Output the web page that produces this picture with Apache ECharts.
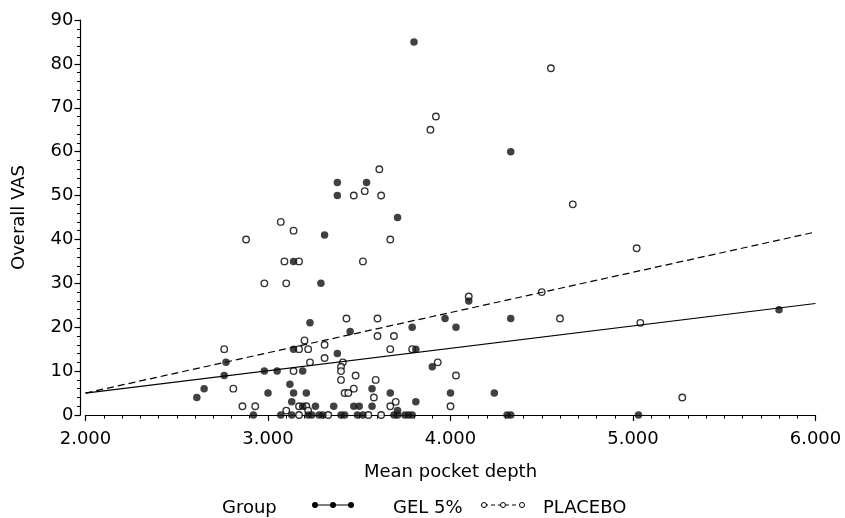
<!DOCTYPE html>
<html>
<head>
<meta charset="utf-8">
<script src="https://cdn.jsdelivr.net/npm/echarts@6/dist/echarts.min.js"></script>
<style>
html, body { margin: 0; padding: 0; background: #fff; }
#main { width: 845px; height: 518px; }
</style>
</head>
<body>
<div id="main"></div>
<script>
// GEL 5% (filled)
var gelX = [3.80, 4.33, 3.38, 3.54, 3.38, 3.71, 3.31, 3.14, 3.29, 4.10, 5.80, 3.97, 4.33, 3.23, 3.79, 4.03,
    3.45, 3.14, 3.81, 3.38, 2.77, 3.90, 2.98, 3.05, 3.19, 2.76, 3.12, 2.65, 3.57, 3.00, 3.14, 3.21,
    3.67, 4.00, 4.24, 2.61, 3.13, 3.81, 3.19, 3.26, 3.36, 3.47, 3.50, 3.57, 3.71, 2.92, 3.07, 3.13,
    3.22, 3.24, 3.28, 3.30, 3.40, 3.42, 3.49, 3.52, 3.69, 3.71, 3.75, 3.77, 3.79, 4.31, 4.33, 5.03];
var gelY = [85, 60, 53, 53, 50, 45, 41, 35, 30, 26, 24, 22, 22, 21, 20, 20,
    19, 15, 15, 14, 12, 11, 10, 10, 10, 9, 7, 6, 6, 5, 5, 5,
    5, 5, 5, 4, 3, 3, 2, 2, 2, 2, 2, 2, 1, 0, 0, 0,
    0, 0, 0, 0, 0, 0, 0, 0, 0, 0, 0, 0, 0, 0, 0, 0];

// PLACEBO (open)
var plaX = [4.55, 3.92, 3.89, 3.61, 3.53, 3.47, 3.62, 4.67, 3.07, 3.14, 2.88, 3.67, 5.02, 3.09, 3.17, 3.52,
    2.98, 3.10, 4.50, 4.10, 3.43, 3.60, 4.60, 5.04, 3.60, 3.69, 3.20, 3.31, 2.76, 3.17, 3.22, 3.67,
    3.79, 3.31, 3.23, 3.41, 3.93, 3.40, 3.14, 3.40, 3.48, 4.03, 3.40, 3.59, 2.81, 3.47, 3.42, 3.44,
    3.58, 5.27, 3.70, 2.86, 2.93, 3.17, 3.21, 3.67, 4.00, 3.10, 3.22, 3.17, 3.33, 3.55, 3.62];
var plaY = [79, 68, 65, 56, 51, 50, 50, 48, 44, 42, 40, 40, 38, 35, 35, 35,
    30, 30, 28, 27, 22, 22, 22, 21, 18, 18, 17, 16, 15, 15, 15, 15,
    15, 13, 12, 12, 12, 11, 10, 10, 9, 9, 8, 8, 6, 6, 5, 5,
    4, 4, 3, 2, 2, 2, 2, 2, 2, 1, 1, 0, 0, 0, 0];

// fitted lines
var fitX = [2, 6];
var gelFit = [5.0, 25.4];
var plaFit = [5.0, 41.7];

var xTicks = {min: 2, max: 6, step: 1};
var yTicks = {min: 0, max: 90, step: 10};

function pairs(xs, ys) {
    return xs.map(function (x, i) { return [x, ys[i]]; });
}

var font = 'DejaVu Sans';
var ink = '#000';

var chart = echarts.init(document.getElementById('main'));

var option = {
    animation: false,
    backgroundColor: '#fff',
    grid: {left: 85.5, right: 29.5, top: 20, bottom: 103},
    xAxis: {
        type: 'value',
        min: xTicks.min, max: xTicks.max, interval: xTicks.step,
        offset: 5,
        name: 'Mean pocket depth',
        nameLocation: 'middle',
        nameGap: 43,
        nameTextStyle: {fontFamily: font, fontSize: 18, color: ink},
        axisLine: {lineStyle: {color: ink, width: 1.2}},
        axisTick: {show: true, length: 6, lineStyle: {color: ink, width: 1.2}},
        minorTick: {show: true, splitNumber: 10, length: 3.5, lineStyle: {color: ink, width: 1}},
        splitLine: {show: false},
        axisLabel: {
            fontFamily: font, fontSize: 18, color: ink, margin: 10,
            formatter: function (v) { return v.toFixed(3); }
        }
    },
    yAxis: {
        type: 'value',
        min: yTicks.min, max: yTicks.max, interval: yTicks.step,
        offset: 5,
        name: 'Overall VAS',
        nameLocation: 'middle',
        nameGap: 52,
        nameTextStyle: {fontFamily: font, fontSize: 18, color: ink},
        axisLine: {show: true, lineStyle: {color: ink, width: 1.2}},
        axisTick: {show: true, length: 6, lineStyle: {color: ink, width: 1.2}},
        minorTick: {show: true, splitNumber: 5, length: 3.5, lineStyle: {color: ink, width: 1}},
        splitLine: {show: false},
        axisLabel: {fontFamily: font, fontSize: 18, color: ink, margin: 7}
    },
    series: [
        {
            name: 'GEL 5% fit',
            type: 'line',
            data: pairs(fitX, gelFit),
            symbol: 'none',
            silent: true,
            lineStyle: {color: ink, width: 1.2}
        },
        {
            name: 'PLACEBO fit',
            type: 'line',
            data: pairs(fitX, plaFit),
            symbol: 'none',
            silent: true,
            lineStyle: {color: ink, width: 1.2, type: [7, 4]}
        },
        {
            name: 'PLACEBO',
            type: 'scatter',
            data: pairs(plaX, plaY),
            symbol: 'circle',
            symbolSize: 6.5,
            itemStyle: {color: '#fff', borderColor: ink, borderWidth: 1.4}
        },
        {
            name: 'GEL 5%',
            type: 'scatter',
            data: pairs(gelX, gelY),
            symbol: 'circle',
            symbolSize: 7.5,
            itemStyle: {color: '#111'}
        }
    ],
    // legend row drawn by hand: "Group  ●-●-●  GEL 5%  o-o-o  PLACEBO"
    graphic: [
        {type: 'text', left: 222, top: 499, style: {text: 'Group', font: '18px ' + font, fill: ink}},
        {type: 'line', shape: {x1: 315, y1: 505, x2: 351, y2: 505}, style: {stroke: ink, lineWidth: 1.2}},
        {type: 'circle', shape: {cx: 315, cy: 505, r: 3}, style: {fill: ink}},
        {type: 'circle', shape: {cx: 333, cy: 505, r: 3}, style: {fill: ink}},
        {type: 'circle', shape: {cx: 351, cy: 505, r: 3}, style: {fill: ink}},
        {type: 'text', left: 393, top: 499, style: {text: 'GEL 5%', font: '18px ' + font, fill: ink}},
        {type: 'line', shape: {x1: 484, y1: 505, x2: 522, y2: 505}, style: {stroke: ink, lineWidth: 1, lineDash: [4, 3]}},
        {type: 'circle', shape: {cx: 484, cy: 505, r: 2.5}, style: {fill: '#fff', stroke: ink, lineWidth: 1}},
        {type: 'circle', shape: {cx: 503, cy: 505, r: 2.5}, style: {fill: '#fff', stroke: ink, lineWidth: 1}},
        {type: 'circle', shape: {cx: 522, cy: 505, r: 2.5}, style: {fill: '#fff', stroke: ink, lineWidth: 1}},
        {type: 'text', left: 543, top: 499, style: {text: 'PLACEBO', font: '18px ' + font, fill: ink}}
    ]
};

chart.setOption(option);
</script>
</body>
</html>
